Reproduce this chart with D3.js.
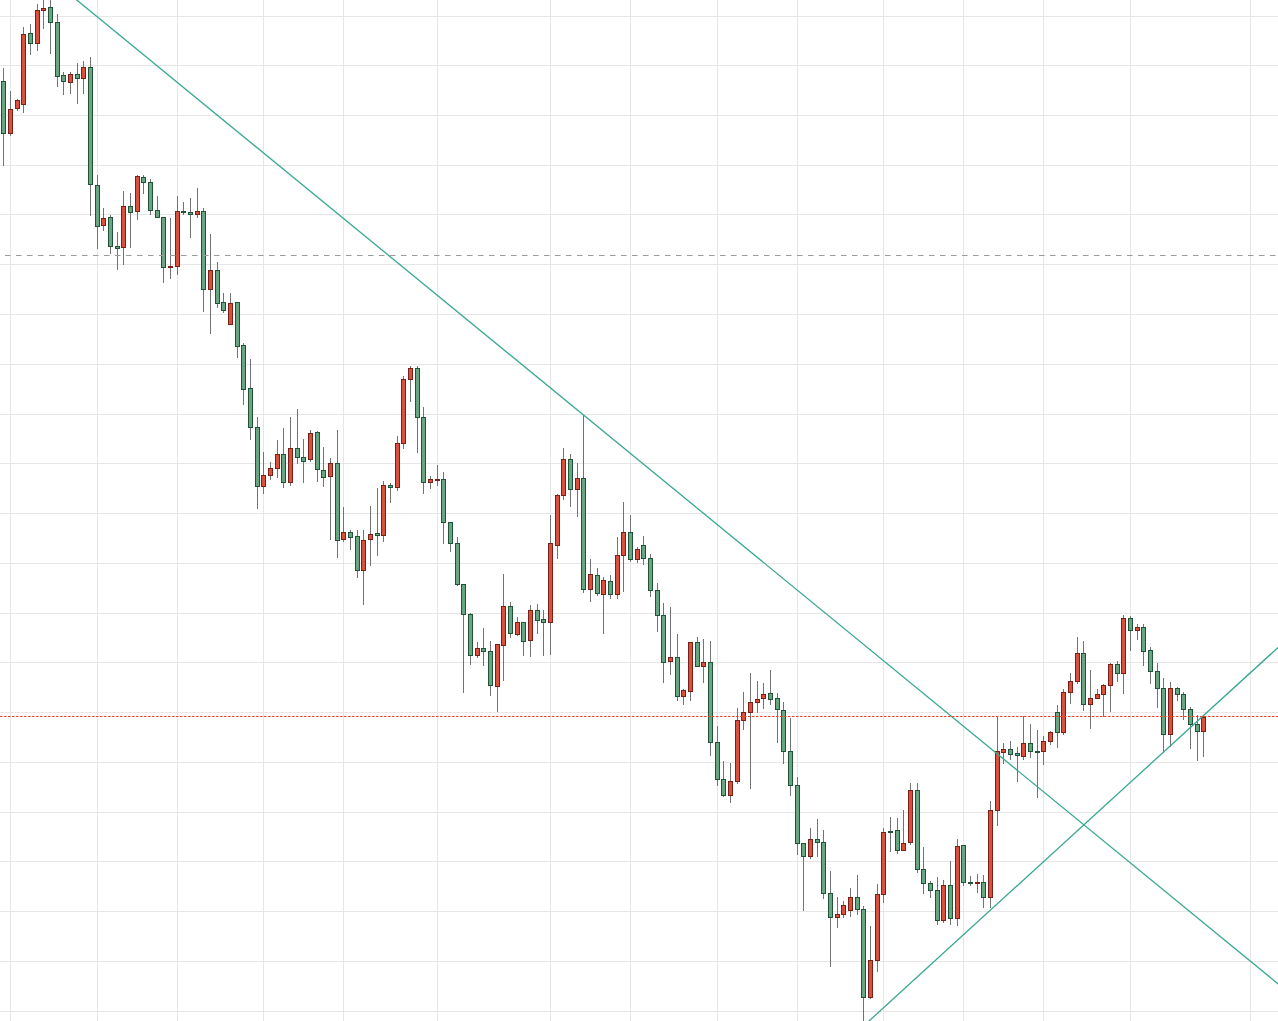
<!DOCTYPE html>
<html>
<head>
<meta charset="utf-8">
<script src="https://cdn.jsdelivr.net/npm/d3@7/dist/d3.min.js"></script>
<style>
  html, body { margin: 0; padding: 0; background: #ffffff; overflow: hidden; }
  svg { display: block; }
</style>
</head>
<body>
<svg id="chart" width="1278" height="1021"></svg>
<script>
// ---- data (daily candles, index 0..180) ----
const openP = [1930,1878,1903,1907,1978,1968,2001,2004,1989,1936,1929,1937,1933,1944,1826,1786,1794,1765,1764,1805,
1800,1834,1829,1801,1794,1744,1745,1800,1799,1797,1800,1722,1741,1709,1687,1709,1666,1623,1584,1525,
1536,1543,1557,1529,1563,1554,1552,1579,1541,1535,1548,1472,1479,1475,1441,1472,1478,1476,1526,1524,
1568,1632,1643,1594,1529,1531,1532,1489,1468,1427,1397,1356,1363,1360,1325,1366,1405,1377,1389,1371,
1401,1392,1389,1466,1516,1552,1522,1533,1422,1436,1417,1430,1417,1456,1479,1452,1466,1453,1421,1396,
1350,1354,1315,1320,1369,1345,1349,1269,1232,1216,1230,1291,1299,1309,1313,1318,1313,1301,1260,1226,
1168,1155,1172,1169,1118,1094,1097,1101,1114,1102,1014,1051,1117,1180,1181,1161,1169,1221,1142,1128,
1121,1091,1126,1093,1166,1129,1128,1129,1114,1201,1259,1262,1258,1255,1268,1260,1260,1270,1299,1279,
1319,1330,1358,1307,1313,1317,1326,1347,1338,1393,1381,1384,1361,1340,1323,1277,1323,1317,1302,1287,
1280];
const highP = [1943,1920,1912,1984,1987,2007,2014,2014,1997,1939,1939,1948,1950,1954,1836,1803,1796,1779,1820,1818,
1836,1836,1832,1815,1794,1793,1815,1809,1813,1823,1803,1777,1749,1718,1718,1709,1668,1652,1594,1559,
1549,1571,1583,1594,1602,1572,1581,1580,1564,1553,1581,1504,1481,1481,1481,1505,1523,1530,1528,1575,
1635,1645,1645,1604,1535,1546,1539,1489,1474,1427,1398,1369,1383,1370,1367,1437,1409,1394,1389,1406,
1407,1401,1496,1517,1563,1557,1548,1596,1452,1443,1434,1436,1474,1509,1496,1464,1475,1457,1428,1408,
1404,1377,1322,1369,1374,1372,1370,1285,1250,1248,1303,1319,1338,1330,1328,1341,1318,1309,1293,1234,
1168,1183,1192,1181,1140,1114,1110,1123,1136,1105,1085,1127,1183,1194,1193,1201,1228,1228,1164,1130,
1134,1131,1150,1172,1166,1135,1137,1136,1210,1295,1268,1270,1264,1295,1287,1281,1275,1280,1306,1322,
1338,1374,1370,1341,1322,1327,1348,1350,1396,1395,1387,1387,1364,1348,1333,1329,1324,1319,1304,1296,
1296];
const lowP = [1846,1876,1901,1899,1957,1961,1983,1958,1925,1917,1918,1908,1918,1796,1763,1781,1758,1742,1747,1764,
1792,1818,1797,1794,1729,1733,1737,1797,1774,1794,1700,1678,1704,1699,1687,1654,1607,1572,1503,1518,
1532,1534,1524,1526,1548,1529,1550,1530,1525,1472,1454,1470,1462,1434,1407,1446,1456,1470,1509,1521,
1563,1610,1559,1518,1523,1526,1468,1460,1426,1319,1347,1354,1346,1316,1300,1331,1374,1376,1356,1355,
1378,1356,1357,1453,1512,1505,1495,1419,1410,1416,1378,1413,1413,1420,1450,1449,1447,1415,1380,1329,
1337,1311,1307,1311,1345,1329,1256,1226,1215,1209,1228,1282,1223,1299,1303,1307,1269,1248,1216,1157,
1101,1153,1155,1113,1045,1084,1094,1095,1097,991,1013,1040,1109,1160,1158,1161,1167,1139,1118,1114,
1087,1089,1087,1086,1126,1126,1119,1104,1104,1186,1248,1252,1230,1252,1254,1214,1247,1267,1264,1277,
1308,1328,1301,1283,1313,1295,1300,1330,1318,1361,1372,1346,1328,1304,1259,1265,1311,1292,1263,1251,
1255];
const closeP = [1878,1902,1911,1977,1968,2001,2003,1989,1935,1930,1937,1933,1944,1827,1785,1793,1765,1763,1805,1799,
1835,1829,1801,1794,1744,1745,1800,1799,1797,1800,1722,1741,1708,1701,1708,1665,1622,1584,1525,1536,
1543,1557,1529,1563,1554,1550,1578,1542,1534,1548,1471,1479,1474,1441,1471,1477,1476,1526,1524,1568,
1632,1643,1594,1529,1532,1532,1489,1468,1427,1397,1356,1363,1360,1326,1367,1405,1378,1389,1370,1401,
1391,1389,1468,1516,1552,1522,1533,1422,1437,1418,1431,1417,1456,1479,1452,1462,1453,1421,1396,1349,
1354,1315,1321,1369,1345,1349,1269,1232,1216,1230,1291,1299,1309,1312,1317,1312,1302,1260,1226,1168,
1155,1172,1169,1118,1094,1097,1106,1114,1102,1014,1051,1117,1179,1179,1161,1168,1221,1142,1128,1121,
1091,1126,1093,1165,1129,1128,1129,1114,1201,1260,1262,1257,1256,1268,1260,1259,1270,1279,1279,1319,
1330,1358,1307,1313,1317,1326,1347,1338,1393,1381,1384,1360,1340,1323,1277,1323,1317,1302,1287,1280,
1294];

// vertical grid lines sit on these candle indices (period boundaries)
const gridIdx = [1, 14, 26, 39, 51, 65, 82, 94, 107, 119, 132, 144, 156, 169, 187];
// horizontal grid levels
const gridBase = 1000, gridStep = 49.75, gridCount = 21;
const gridLevels = d3.range(gridCount).map(k => gridBase + k * gridStep);

// drawn objects
const trendDown = [{i: 5, p: 2043.4}, {i: 192, p: 1022.4}];
const trendUp = [{i: 128.3, p: 981}, {i: 192, p: 1368.8}];
const levelGray = {i0: 0.18, p: 1756};
const levelRed = {i0: -1, p: 1295};

// ---- rendering ----
const W = 1278, H = 1021;
const svg = d3.select('#chart');
const x = d3.scaleLinear().domain([0, 180]).range([3.83, 1203.83]);
const y = d3.scaleLinear().domain([1000, 1995]).range([1011, 16]);
const xEnd = x.invert(W + 10);

const candles = openP.map((o, i) => ({
  i, o, c: closeP[i],
  h: Math.max(highP[i], o, closeP[i]),
  l: Math.min(lowP[i], o, closeP[i])
}));

const gGrid = svg.append('g');
gGrid.selectAll('line.h').data(gridLevels).join('line')
  .attr('x1', 0).attr('x2', W)
  .attr('y1', d => Math.floor(y(d)) + 0.5).attr('y2', d => Math.floor(y(d)) + 0.5)
  .attr('stroke', '#e6e6e6').attr('stroke-width', 1);
gGrid.selectAll('line.v').data(gridIdx).join('line')
  .attr('y1', 0).attr('y2', H)
  .attr('x1', d => Math.floor(x(d)) + 0.5).attr('x2', d => Math.floor(x(d)) + 0.5)
  .attr('stroke', '#e6e6e6').attr('stroke-width', 1);

const gC = svg.append('g');
const col = d => Math.floor(x(d.i));
gC.selectAll('line.wick').data(candles).join('line')
  .attr('x1', d => col(d) + 0.5).attr('x2', d => col(d) + 0.5)
  .attr('y1', d => Math.round(y(d.h))).attr('y2', d => Math.round(y(d.l)) + 1)
  .attr('stroke', '#737373').attr('stroke-width', 1);
gC.selectAll('rect.body').data(candles).join('rect')
  .attr('x', d => col(d) - 1.5)
  .attr('width', 4)
  .attr('y', d => Math.round(y(Math.max(d.o, d.c))) + 0.5)
  .attr('height', d => Math.max(0, Math.round(y(Math.min(d.o, d.c))) - Math.round(y(Math.max(d.o, d.c)))))
  .attr('fill', d => d.c >= d.o ? '#d9503e' : '#67a680')
  .attr('stroke', d => d.c >= d.o ? '#7a2016' : '#1f5438')
  .attr('stroke-width', 1);

const line = d3.line().x(d => x(d.i)).y(d => y(d.p));
svg.append('path').datum(trendDown).attr('d', line)
  .attr('fill', 'none').attr('stroke', '#38a891').attr('stroke-width', 1.3);
svg.append('path').datum(trendUp).attr('d', line)
  .attr('fill', 'none').attr('stroke', '#38a891').attr('stroke-width', 1.3);

svg.append('line')
  .attr('x1', x(levelGray.i0)).attr('x2', W)
  .attr('y1', Math.round(y(levelGray.p)) + 0.5).attr('y2', Math.round(y(levelGray.p)) + 0.5)
  .attr('stroke', '#9a9a9a').attr('stroke-width', 1).attr('stroke-dasharray', '5.5,5.5');
svg.append('line')
  .attr('x1', 0).attr('x2', W)
  .attr('y1', Math.round(y(levelRed.p)) + 0.5).attr('y2', Math.round(y(levelRed.p)) + 0.5)
  .attr('stroke', '#e8432c').attr('stroke-width', 1).attr('stroke-dasharray', '2.5,1.5');
</script>
</body>
</html>
